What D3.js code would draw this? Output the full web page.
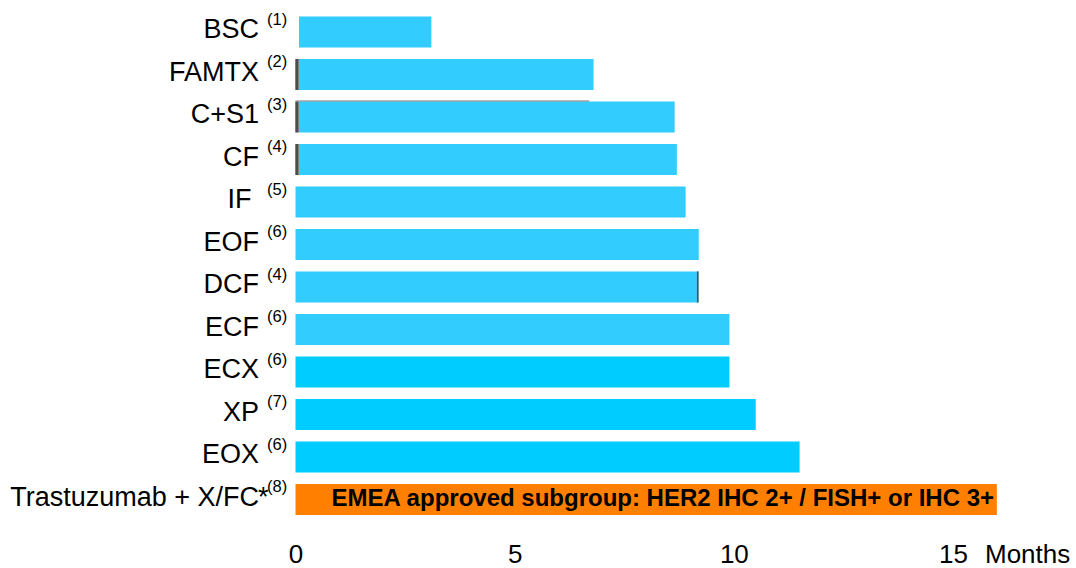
<!DOCTYPE html>
<html>
<head>
<meta charset="utf-8">
<script src="https://cdn.jsdelivr.net/npm/d3@7"></script>
<style>
  html, body { margin: 0; padding: 0; background: #ffffff; }
  svg { display: block; }
  text { font-family: "Liberation Sans", Arial, sans-serif; fill: #000; }
</style>
</head>
<body>
<svg id="chart" width="1076" height="568"></svg>
<script>
// Median overall survival (months) by regimen
const regimens   = ["BSC", "FAMTX", "C+S1", "CF", "IF ", "EOF", "DCF", "ECF", "ECX", "XP", "EOX", "Trastuzumab + X/FC*"];
const references = ["(1)", "(2)", "(3)", "(4)", "(5)", "(6)", "(4)", "(6)", "(6)", "(7)", "(6)", "(8)"];
const medianOS   = [3.1, 6.8, 8.65, 8.7, 8.9, 9.2, 9.2, 9.9, 9.9, 10.5, 11.5, 16.0];
const barGroups  = ["pale", "pale", "pale", "pale", "pale", "pale", "pale", "pale", "bright", "bright", "bright", "highlight"];
const xTicks     = [0, 5, 10, 15];
const xUnit      = "Months";
const highlightNote = "EMEA approved subgroup: HER2 IHC 2+ / FISH+ or IHC 3+";

const rows = regimens.map((name, i) => ({
  name, ref: references[i], value: medianOS[i], group: barGroups[i]
}));

const groupColor = { pale: "#33CCFF", bright: "#00CCFF", highlight: "#FF8000" };

const svg = d3.select("#chart");

const x = d3.scaleLinear().domain([0, 15]).range([295.5, 953]);
const y = d3.scaleBand()
  .domain(regimens)
  .range([10.75, 520.75])
  .paddingInner(0.27)
  .paddingOuter(0.135);

// shaded gradient used for the bevelled bar edges
const defs = svg.append("defs");
const grad = defs.append("linearGradient").attr("id", "edgeShade")
  .attr("x1", "0").attr("x2", "1").attr("y1", "0").attr("y2", "0");
grad.append("stop").attr("offset", "0%").attr("stop-color", "#999");
grad.append("stop").attr("offset", "50%").attr("stop-color", "#333");
grad.append("stop").attr("offset", "100%").attr("stop-color", "#999");

// the oldest regimens start a little inside the baseline
const insetBars = new Set(["BSC", "FAMTX", "C+S1", "CF"]);
const leftEdged = new Set(["FAMTX", "C+S1", "CF"]);
const inset = 3.5;

svg.append("g").selectAll("rect.bar")
  .data(rows)
  .join("rect")
  .attr("class", "bar")
  .attr("x", d => x(0) + (insetBars.has(d.name) ? inset : 0))
  .attr("y", d => y(d.name))
  .attr("width", d => x(d.value) - x(0) - (insetBars.has(d.name) ? inset : 0))
  .attr("height", y.bandwidth())
  .attr("fill", d => groupColor[d.group]);

// bevel strips on the left of some bars
svg.append("g").selectAll("rect.edge")
  .data(rows.filter(d => leftEdged.has(d.name)))
  .join("rect")
  .attr("x", x(0) - 0.5)
  .attr("y", d => y(d.name))
  .attr("width", inset + 0.5)
  .attr("height", y.bandwidth())
  .attr("fill", "url(#edgeShade)");

// thin outline on top of C+S1
const cs1 = rows.find(d => d.name === "C+S1");
svg.append("line")
  .attr("x1", x(0)).attr("x2", x(6.7))
  .attr("y1", y(cs1.name) - 0.5).attr("y2", y(cs1.name) - 0.5)
  .attr("stroke", "#777").attr("stroke-width", 1.2);

// dark right edge on DCF
const dcf = rows.find(d => d.name === "DCF");
svg.append("rect")
  .attr("x", x(dcf.value) - 2).attr("y", y(dcf.name))
  .attr("width", 2).attr("height", y.bandwidth())
  .attr("fill", "url(#edgeShade)");

// category labels, right aligned
const labelX = 259;
const labelSize = "27px";
svg.append("g").selectAll("text.cat")
  .data(rows)
  .join("text")
  .attr("class", "cat")
  .attr("x", labelX)
  .attr("y", d => y(d.name) + y.bandwidth() / 2 + 6)
  .attr("text-anchor", "end")
  .attr("xml:space", "preserve")
  .style("white-space", "pre")
  .style("font-size", labelSize)
  .text(d => d.name.endsWith("*") ? d.name.slice(0, -1) : d.name);

// asterisk footnote marker
svg.append("g").selectAll("text.star")
  .data(rows.filter(d => d.name.endsWith("*")))
  .join("text")
  .attr("class", "star")
  .attr("x", labelX - 1)
  .attr("y", d => y(d.name) + y.bandwidth() / 2 + 6)
  .style("font-size", labelSize)
  .text("*");

// reference superscripts
svg.append("g").selectAll("text.ref")
  .data(rows)
  .join("text")
  .attr("class", "ref")
  .attr("x", 267)
  .attr("y", d => y(d.name) + y.bandwidth() / 2 - 7.5)
  .style("font-size", "16.5px")
  .text(d => d.ref);

// note inside the highlighted bar
const hl = rows.find(d => d.group === "highlight");
svg.append("text")
  .attr("x", x(0) + 36)
  .attr("y", y(hl.name) + y.bandwidth() / 2 + 6)
  .style("font-size", "24px")
  .style("font-weight", "bold")
  .text(highlightNote);

// x axis: tick labels only
const axisBaseline = 563;
const xAxis = d3.axisBottom(x).tickValues(xTicks).tickSize(0).tickPadding(0).tickFormat(d3.format("d"));
const gx = svg.append("g").attr("transform", `translate(0,${axisBaseline})`).call(xAxis);
gx.select(".domain").remove();
gx.selectAll("text")
  .attr("dy", null)
  .attr("y", 0)
  .attr("fill", "#000")
  .style("font-size", "26px")
  .style("font-family", "'Liberation Sans', Arial, sans-serif");

svg.append("text")
  .attr("x", 985)
  .attr("y", axisBaseline)
  .style("font-size", "26px")
  .text(xUnit);
</script>
</body>
</html>
